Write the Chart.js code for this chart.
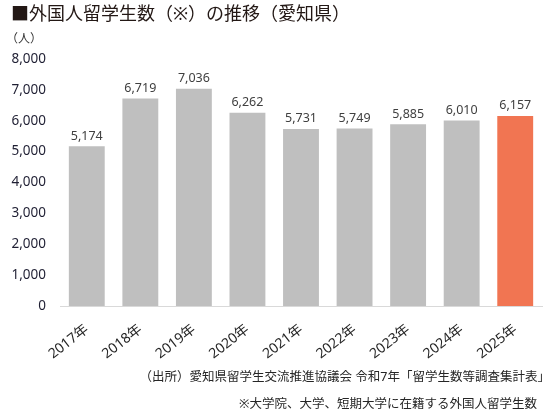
<!DOCTYPE html>
<html lang="ja">
<head>
<meta charset="UTF-8">
<title>外国人留学生数の推移（愛知県）</title>
<script src="https://cdn.jsdelivr.net/npm/chart.js"></script>
<style>
    html, body { margin: 0; padding: 0; background: #fff; }
    #wrap { position: relative; width: 559px; height: 415px; }
</style>
</head>
<body>
<div id="wrap"><canvas id="chart" width="559" height="415"></canvas></div>
<script>
    // data
    const years = ["2017年", "2018年", "2019年", "2020年", "2021年", "2022年", "2023年", "2024年", "2025年"];
    const students = [5174, 6719, 7036, 6262, 5731, 5749, 5885, 6010, 6157];
    const yTicks = [0, 1000, 2000, 3000, 4000, 5000, 6000, 7000, 8000];

    const titleText = "■外国人留学生数（※）の推移（愛知県）";
    const unitText = "（人）";
    const sourceText = "（出所）愛知県留学生交流推進協議会 令和7年「留学生数等調査集計表」";
    const noteText = "※大学院、大学、短期大学に在籍する外国人留学生数";

    const FONT = '"Noto Sans", "Noto Sans CJK JP", sans-serif';
    const barColors = years.map((y, i) => i === years.length - 1 ? "#F17552" : "#BFBFBF");

    // title, unit, footnotes and value labels
    const textPlugin = {
        id: "texts",
        afterDatasetsDraw(chart) {
            const ctx = chart.ctx;
            ctx.save();
            // value labels
            ctx.fillStyle = "#404040";
            ctx.font = "12.5px " + FONT;
            ctx.textAlign = "center";
            ctx.textBaseline = "bottom";
            chart.getDatasetMeta(0).data.forEach((bar, i) => {
                ctx.fillText(students[i].toLocaleString("en-US"), bar.x, bar.y - 4);
            });
            // title
            ctx.fillStyle = "#231815";
            ctx.font = "18px " + FONT;
            ctx.textAlign = "left";
            ctx.textBaseline = "middle";
            ctx.fillText(titleText, 11, 15);
            // unit
            ctx.fillStyle = "#333";
            ctx.font = "12px " + FONT;
            ctx.fillText(unitText, 6, 40);
            // footnotes
            ctx.fillStyle = "#262626";
            ctx.font = "12.5px " + FONT;
            ctx.textAlign = "right";
            ctx.fillText(sourceText, 550, 377);
            ctx.fillText(noteText, 537, 404);
            ctx.restore();
        }
    };

    new Chart(document.getElementById("chart"), {
        type: "bar",
        data: {
            labels: years,
            datasets: [{
                data: students,
                backgroundColor: barColors,
                categoryPercentage: 1,
                barPercentage: 0.67
            }]
        },
        options: {
            responsive: false,
            animation: false,
            layout: { padding: { top: 59, right: 17, bottom: 0, left: 0 } },
            plugins: {
                legend: { display: false },
                tooltip: { enabled: false }
            },
            scales: {
                x: {
                    grid: { display: false, drawTicks: false },
                    border: { display: true, color: "#D9D9D9", width: 1 },
                    ticks: {
                        color: "#262626",
                        font: { family: FONT, size: 14 },
                        maxRotation: 38,
                        minRotation: 38,
                        padding: 15
                    },
                    afterFit(scale) { scale.height = 109; }
                },
                y: {
                    min: 0,
                    max: 8000,
                    grid: { display: false, drawTicks: false },
                    border: { display: false },
                    afterBuildTicks(scale) { scale.ticks = yTicks.map(v => ({ value: v })); },
                    ticks: {
                        color: "#1F1F33",
                        font: { family: FONT, size: 13.5 },
                        padding: 14,
                        callback: v => v.toLocaleString("en-US")
                    },
                    afterFit(scale) { scale.width = 60; }
                }
            }
        },
        plugins: [textPlugin]
    });
</script>
</body>
</html>
